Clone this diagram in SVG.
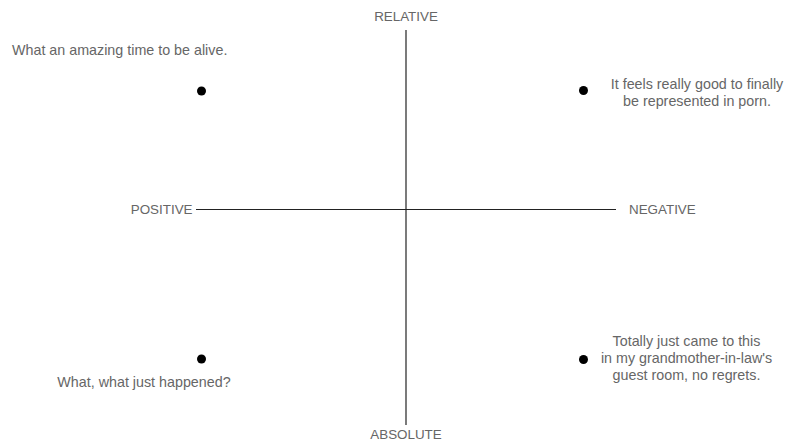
<svg xmlns="http://www.w3.org/2000/svg" width="787" height="446" viewBox="0 0 787 446">
<style>
text{font-family:"Liberation Sans",Arial,Helvetica,sans-serif;font-size:14.3px;fill:#666}
.cap{font-size:13.4px}
.axis{stroke:#222;stroke-width:1.2;fill:none}
.dot{fill:#000}
</style>
<rect width="787" height="446" fill="#fff"/>
<g id="connectors">
<line class="axis" x1="406" y1="30" x2="406" y2="425"/>
<line class="axis" x1="196" y1="209.5" x2="616" y2="209.5"/>
</g>
<g id="relative"><text class="cap" x="406" y="21" text-anchor="middle">RELATIVE</text></g>
<g id="absolute"><text class="cap" x="406" y="439" text-anchor="middle">ABSOLUTE</text></g>
<g id="positive"><text class="cap" x="192.5" y="214" text-anchor="end">POSITIVE</text></g>
<g id="negative"><text class="cap" x="629" y="214">NEGATIVE</text></g>
<g id="p1"><circle class="dot" cx="201.5" cy="91" r="4.5"/><text x="12" y="55">What an amazing time to be alive.</text></g>
<g id="p2"><circle class="dot" cx="583.5" cy="90.5" r="4.5"/><text text-anchor="middle"><tspan x="697" y="89">It feels really good to finally</tspan><tspan x="697" y="106">be represented in porn.</tspan></text></g>
<g id="p3"><circle class="dot" cx="201.5" cy="359" r="4.5"/><text x="144" y="386.5" text-anchor="middle">What, what just happened?</text></g>
<g id="p4"><circle class="dot" cx="583.5" cy="359.5" r="4.5"/><text text-anchor="middle"><tspan x="686.5" y="346">Totally just came to this</tspan><tspan x="686.5" y="363">in my grandmother-in-law's</tspan><tspan x="686.5" y="380">guest room, no regrets.</tspan></text></g>
</svg>
